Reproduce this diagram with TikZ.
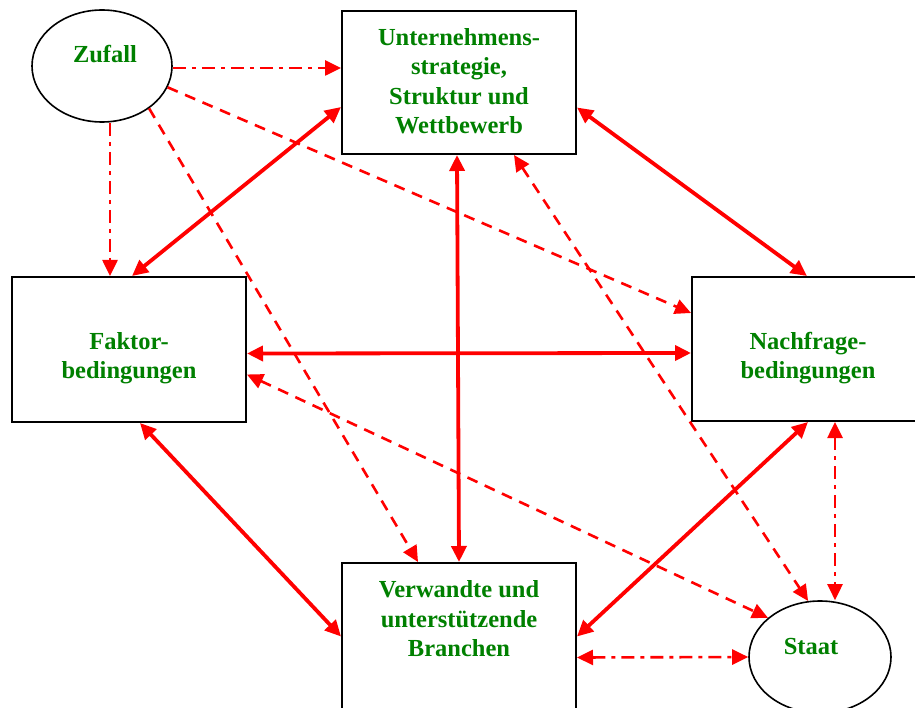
\documentclass[tikz,border=0pt]{standalone}
\usepackage{fontspec}
\setmainfont{Liberation Serif}
\usetikzlibrary{arrows.meta,shapes.geometric}
\definecolor{lblgreen}{RGB}{0,128,0}
\tikzset{
  box/.style={draw=black, line width=2pt, rectangle, minimum width=234pt, inner sep=0pt},
  oval/.style={draw=black, line width=1.6pt, ellipse, inner sep=0pt},
  lbl/.style={text=lblgreen, font=\fontsize{24.5pt}{29.5pt}\selectfont\bfseries, align=center, inner sep=0pt},
  head/.style={Triangle[length=16pt,width=15pt]},
  link/.style={draw=red, line width=3.8pt, {Triangle[length=16pt,width=15pt]}-{Triangle[length=16pt,width=15pt]}},
  weak/.style={draw=red, line width=2.6pt, dash pattern=on 11pt off 8pt},
  chance/.style={draw=red, line width=2.6pt, dash pattern=on 13pt off 6pt on 4pt off 6pt},
  tip/.style={-{Triangle[length=16pt,width=15pt]}},
  tips/.style={{Triangle[length=16pt,width=15pt]}-{Triangle[length=16pt,width=15pt]}}
}
\begin{document}
\begin{tikzpicture}[x=1pt, y=-1pt]
\useasboundingbox (0,0) rectangle (915,708);
\fill[white] (0,0) rectangle (915,708);

% boxes and ovals
\node[box, minimum height=143pt] (unt) at (459,82.5) {};
\node[box, minimum height=145pt] (fak) at (129,349.5) {};
\node[box, minimum height=144pt] (nach) at (809,349) {};
\node[box, minimum height=147pt] (ver) at (459,636.5) {};
\node[oval, minimum width=140pt, minimum height=112pt] (zuf) at (102,66) {};
\node[oval, minimum width=142pt, minimum height=112pt] (staat) at (820,657) {};

% labels
\node[lbl] (untT) at (459,81) {Unternehmens-\\strategie,\\Struktur und\\Wettbewerb};
\node[lbl] (fakT) at (129,358) {Faktor-\\bedingungen};
\node[lbl] (nachT) at (808,358) {Nachfrage-\\bedingungen};
\node[lbl] (verT) at (459,619) {Verwandte und\\unterstützende\\Branchen};
\node[lbl] (zufT) at (105,54) {Zufall};
\node[lbl] (staatT) at (811,647) {Staat};

% chance influences
\draw[chance, tip] ([yshift=-2pt]zuf.east) -- ([yshift=14.5pt]unt.west);
\draw[chance, tip] ([xshift=8pt]zuf.south) -- ([xshift=-19pt]fak.north);
\draw[weak, tip] (zuf.-18) -- ([yshift=36pt]nach.west);
\draw[weak, tip] (zuf.-42) -- ([xshift=-41pt]ver.north);

% core diamond
\draw[link] ([yshift=-24.5pt]unt.west) -- ([xshift=3pt]fak.north);
\draw[link] ([yshift=-25pt]unt.east) -- ([xshift=-2pt]nach.north);
\draw[link] ([xshift=-2pt]unt.south) -- (ver.north);
\draw[link] ([yshift=-4pt]fak.east) -- ([yshift=-4pt]nach.west);
\draw[link] ([xshift=11pt]fak.south) -- (ver.west);
\draw[link] ([xshift=-1pt]nach.south) -- (ver.east);

% government influences
\draw[chance, tips] ([xshift=26pt]nach.south) -- ([xshift=15pt]staat.north);
\draw[chance, tips] ([yshift=-21pt]ver.east) -- (staat.west);
\draw[weak, tips] ([yshift=-25pt]fak.east) -- (staat.143);
\draw[weak, tips] ([xshift=55pt]unt.south) -- (staat.102);
\end{tikzpicture}
\end{document}
